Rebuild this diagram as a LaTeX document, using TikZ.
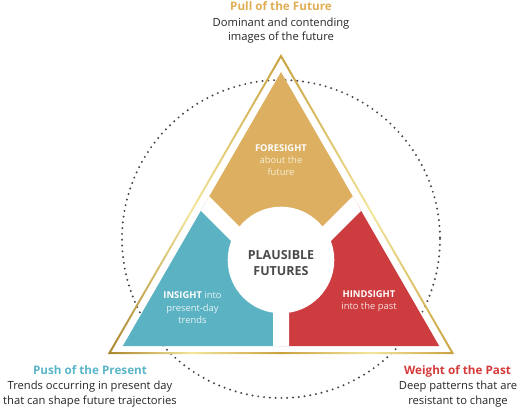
\documentclass[tikz,border=0pt]{standalone}
\usepackage{fontspec}
\setmainfont{Open Sans}
\definecolor{goldpiece}{HTML}{DCB060}
\definecolor{bluepiece}{HTML}{5BB2C3}
\definecolor{redpiece}{HTML}{CD3C3E}
\definecolor{goldtitle}{HTML}{E0AE55}
\definecolor{bluetitle}{HTML}{5AB5C8}
\definecolor{redtitle}{HTML}{D43A3A}
\definecolor{goldsoft}{HTML}{F7ECD2}
\definecolor{bluesoft}{HTML}{E6F4F7}
\definecolor{redsoft}{HTML}{F7DEDE}
\definecolor{centergray}{HTML}{4A4A4A}
\definecolor{inkgray}{HTML}{262626}
\definecolor{dotgray}{HTML}{4D4444}
\definecolor{goldA}{HTML}{A9842C}
\definecolor{goldB}{HTML}{F3E69C}
\definecolor{goldC}{HTML}{C9A240}
\definecolor{goldD}{HTML}{C8A13E}
\pgfdeclarehorizontalshading{goldline}{100bp}{color(0bp)=(goldA); color(25bp)=(goldA); color(37bp)=(goldB); color(50bp)=(goldC); color(63bp)=(goldB); color(75bp)=(goldD); color(100bp)=(goldD)}

\begin{document}
\begin{tikzpicture}[x=1pt,y=-1pt,
    every node/.style={inner sep=0pt, align=center, anchor=base},
    title/.style={font=\fontsize{11.7}{14}\selectfont\bfseries},
    desc/.style={font=\fontsize{11.2}{14.2}\selectfont, text=inkgray},
    piece/.style={font=\fontsize{9.4}{12.3}\selectfont}]
    \useasboundingbox (0,0) rectangle (520,409);

    \coordinate (A) at (281,54);
    \coordinate (B) at (107.8,354);
    \coordinate (C) at (454.2,354);
    \coordinate (Ai) at (281,58);
    \coordinate (Bi) at (111.2,352);
    \coordinate (Ci) at (450.8,352);
    \coordinate (a) at (281,72);
    \coordinate (b) at (122.8,346);
    \coordinate (c) at (439.2,346);
    \coordinate (P) at (281,279.5);
    \coordinate (M) at (281,260);

    \draw[dotgray, line width=2.2pt, line cap=round, dash pattern=on 0pt off 5.8pt] (281,239) circle (159);

    \begin{scope}
        \clip (a) -- (b) -- (c) -- cycle;
        \fill[goldpiece] (P) -- (131,129.5) -- (131,0) -- (431,0) -- (431,129.5) -- cycle;
        \fill[bluepiece] (P) -- (131,129.5) -- (100,129.5) -- (100,400) -- (281,400) -- cycle;
        \fill[redpiece] (P) -- (431,129.5) -- (460,129.5) -- (460,400) -- (281,400) -- cycle;
        \draw[white, line width=16pt] (131,129.5) -- (P) -- (431,129.5) (P) -- (281,400);
        \fill[white] (M) circle (53.3);
    \end{scope}

    \shade[shading=goldline, even odd rule] (A) -- (B) -- (C) -- cycle (Ai) -- (Bi) -- (Ci) -- cycle;

    \node[title, text=goldtitle] (pull) at (281,10.7) {Pull of the Future};
    \node[desc] (pulltext) at (281,40.7) {Dominant and contending\\images of the future};
    \node[title, text=bluetitle] (push) at (90,374.3) {Push of the Present};
    \node[desc] (pushtext) at (90,404) {Trends occurring in present day\\that can shape future trajectories};
    \node[title, text=redtitle] (weight) at (457.5,374.3) {Weight of the Past};
    \node[desc] (weighttext) at (458,404) {Deep patterns that are\\resistant to change};

    \node[piece, text=goldsoft] (fore) at (281,176) {\textcolor{white}{\textbf{FORESIGHT}}\\about the\\future};
    \node[piece, text=bluesoft] (insight) at (192.5,323.3) {\textcolor{white}{\textbf{INSIGHT}} into\\present-day\\trends};
    \node[piece, text=redsoft] (hind) at (369,309.3) {\textcolor{white}{\textbf{HINDSIGHT}}\\into the past};
    \node[font=\fontsize{12.5}{16}\selectfont\bfseries, text=centergray] (plaus) at (281,276) {PLAUSIBLE\\FUTURES};
\end{tikzpicture}
\end{document}
